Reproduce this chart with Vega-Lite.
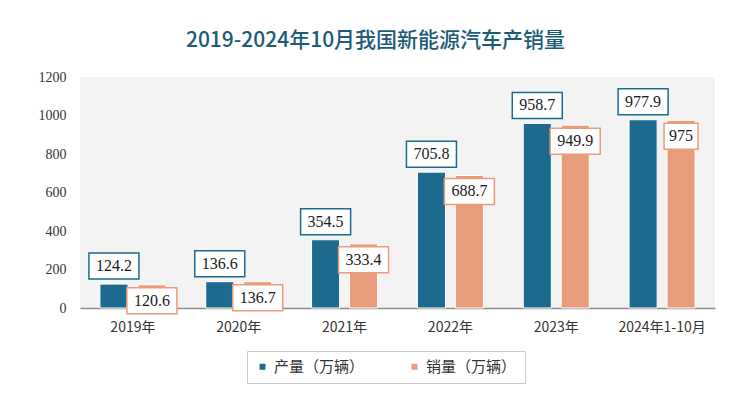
{
  "$schema": "https://vega.github.io/schema/vega-lite/v6.json",
  "width": 635,
  "height": 231,
  "autosize": {"type": "none"},
  "padding": {"left": 80, "top": 77, "right": 35, "bottom": 101},
  "background": "#ffffff",
  "title": {
    "text": "2019-2024年10月我国新能源汽车产销量",
    "font": "Noto Sans CJK SC",
    "fontSize": 21,
    "fontWeight": 500,
    "color": "#1d5b78",
    "anchor": "middle",
    "dx": -22,
    "offset": 19
  },
  "config": {
    "view": {"fill": "#f3f3f3", "stroke": null},
    "axis": {"labelFont": "Liberation Sans Narrow", "labelColor": "#333333", "labelFontSize": 14}
  },
  "data": {
    "values": [
      {"year": "2019年", "series": "产量（万辆）", "value": 124.2},
      {"year": "2019年", "series": "销量（万辆）", "value": 120.6},
      {"year": "2020年", "series": "产量（万辆）", "value": 136.6},
      {"year": "2020年", "series": "销量（万辆）", "value": 136.7},
      {"year": "2021年", "series": "产量（万辆）", "value": 354.5},
      {"year": "2021年", "series": "销量（万辆）", "value": 333.4},
      {"year": "2022年", "series": "产量（万辆）", "value": 705.8},
      {"year": "2022年", "series": "销量（万辆）", "value": 688.7},
      {"year": "2023年", "series": "产量（万辆）", "value": 958.7},
      {"year": "2023年", "series": "销量（万辆）", "value": 949.9},
      {"year": "2024年1-10月", "series": "产量（万辆）", "value": 977.9},
      {"year": "2024年1-10月", "series": "销量（万辆）", "value": 975}
    ]
  },
  "encoding": {
    "x": {
      "field": "year",
      "type": "nominal",
      "sort": null,
      "scale": {"paddingInner": 0.376, "paddingOuter": 0.188},
      "axis": {
        "title": null,
        "labelAngle": 0,
        "labelFont": "Noto Sans CJK SC",
        "labelFontSize": 14,
        "labelColor": "#333333",
        "labelPadding": 12,
        "ticks": false,
        "domainColor": "#8c8c8c",
        "domainWidth": 1.5
      }
    },
    "xOffset": {
      "field": "series",
      "type": "nominal",
      "sort": ["产量（万辆）", "销量（万辆）"],
      "scale": {"paddingInner": 0.26, "paddingOuter": 0}
    },
    "y": {
      "field": "value",
      "type": "quantitative",
      "scale": {"domain": [0, 1200]},
      "axis": {
        "title": null,
        "values": [0, 200, 400, 600, 800, 1000, 1200],
        "format": "d",
        "grid": false,
        "domain": false,
        "ticks": false,
        "labelPadding": 14
      }
    }
  },
  "layer": [
    {
      "mark": {"type": "bar", "stroke": "#ffffff", "strokeWidth": 1},
      "encoding": {
        "color": {
          "field": "series",
          "type": "nominal",
          "sort": ["产量（万辆）", "销量（万辆）"],
          "scale": {"range": ["#1c6b8f", "#e89c7c"]},
          "legend": {
            "title": null,
            "orient": "none",
            "direction": "horizontal",
            "legendX": 167,
            "legendY": 274,
            "symbolType": "square",
            "symbolSize": 55,
            "labelFont": "Noto Sans CJK SC",
            "labelFontSize": 15,
            "labelColor": "#333333",
            "columnPadding": 42,
            "strokeColor": "#cccccc",
            "fillColor": "#ffffff",
            "padding": 8
          }
        }
      }
    },
    {
      "transform": [{"filter": "datum.series === '产量（万辆）'"}],
      "mark": {
        "type": "point",
        "shape": "M-1,-0.52H1V0.52H-1Z",
        "size": 2500,
        "filled": true,
        "fill": "#ffffff",
        "fillOpacity": 1,
        "stroke": "#1c6b8f",
        "strokeWidth": 1.5,
        "strokeOpacity": 1,
        "opacity": 1,
        "yOffset": -18
      }
    },
    {
      "transform": [{"filter": "datum.series === '销量（万辆）' && datum.value !== 975"}],
      "mark": {
        "type": "point",
        "shape": "M-1,-0.52H1V0.52H-1Z",
        "size": 2500,
        "filled": true,
        "fill": "#ffffff",
        "fillOpacity": 1,
        "stroke": "#e89c7c",
        "strokeWidth": 1.5,
        "strokeOpacity": 1,
        "opacity": 1,
        "yOffset": 16
      }
    },
    {
      "transform": [{"filter": "datum.series === '销量（万辆）' && datum.value === 975"}],
      "mark": {
        "type": "point",
        "shape": "M-0.68,-0.52H0.68V0.52H-0.68Z",
        "size": 2500,
        "filled": true,
        "fill": "#ffffff",
        "fillOpacity": 1,
        "stroke": "#e89c7c",
        "strokeWidth": 1.5,
        "strokeOpacity": 1,
        "opacity": 1,
        "yOffset": 16
      }
    },
    {
      "transform": [{"filter": "datum.series === '产量（万辆）'"}],
      "mark": {"type": "text", "font": "Liberation Sans Narrow", "fontSize": 16, "color": "#1a1a1a", "baseline": "middle", "yOffset": -18},
      "encoding": {"text": {"field": "value", "type": "quantitative"}}
    },
    {
      "transform": [{"filter": "datum.series === '销量（万辆）'"}],
      "mark": {"type": "text", "font": "Liberation Sans Narrow", "fontSize": 16, "color": "#1a1a1a", "baseline": "middle", "yOffset": 16},
      "encoding": {"text": {"field": "value", "type": "quantitative"}}
    }
  ]
}
